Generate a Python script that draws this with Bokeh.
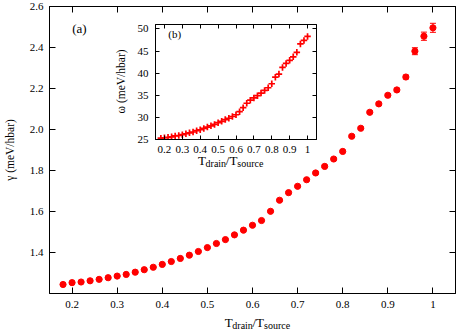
import math
from bokeh.plotting import figure
from bokeh.models import (ColumnDataSource, Whisker, TeeHead, Label, LinearAxis,
                          FixedTicker, CustomJSTickFormatter, Range1d)
from bokeh.layouts import column
from bokeh.embed import file_html
from bokeh.resources import INLINE

# ---------------- data ----------------
ratio = [0.18, 0.20, 0.22, 0.24, 0.26, 0.28, 0.30, 0.32, 0.34, 0.36, 0.38,
         0.40, 0.42, 0.44, 0.46, 0.48, 0.50, 0.52, 0.54, 0.56, 0.58, 0.60,
         0.62, 0.64, 0.66, 0.68, 0.70, 0.72, 0.74, 0.76, 0.78, 0.80, 0.82,
         0.84, 0.86, 0.88, 0.90, 0.92, 0.94, 0.96, 0.98, 1.00]
gamma = [1.244, 1.253, 1.256, 1.262, 1.269, 1.277, 1.285, 1.293, 1.304, 1.316,
         1.328, 1.342, 1.356, 1.371, 1.387, 1.405, 1.424, 1.444, 1.463, 1.486,
         1.509, 1.533, 1.556, 1.601, 1.655, 1.692, 1.723, 1.755, 1.788, 1.820,
         1.856, 1.893, 1.967, 2.006, 2.084, 2.125, 2.167, 2.193, 2.256, 2.382,
         2.455, 2.496]
gamma_err = [0.002, 0.002, 0.002, 0.002, 0.002, 0.002, 0.002, 0.002, 0.002, 0.002,
             0.002, 0.002, 0.002, 0.002, 0.003, 0.003, 0.003, 0.003, 0.003, 0.003,
             0.003, 0.003, 0.003, 0.004, 0.004, 0.004, 0.004, 0.004, 0.005, 0.005,
             0.005, 0.005, 0.006, 0.006, 0.006, 0.007, 0.007, 0.008, 0.009, 0.017,
             0.020, 0.022]
omega = [25.3, 25.4, 25.5, 25.6, 25.8, 25.9, 26.1, 26.3, 26.5, 26.7, 27.0,
         27.2, 27.5, 27.8, 28.1, 28.4, 28.8, 29.1, 29.5, 29.8, 30.2, 30.6,
         31.3, 32.2, 33.2, 33.9, 34.4, 34.9, 35.5, 36.1, 36.7, 37.6, 39.1,
         39.8, 41.3, 42.2, 42.9, 43.7, 44.7, 46.6, 47.4, 48.3]

main_xticks = [0.2, 0.3, 0.4, 0.5, 0.6, 0.7, 0.8, 0.9, 1.0]
main_yticks = [1.4, 1.6, 1.8, 2.0, 2.2, 2.4, 2.6]
inset_xticks = [0.2, 0.3, 0.4, 0.5, 0.6, 0.7, 0.8, 0.9, 1.0]
inset_yticks = [25, 30, 35, 40, 45, 50]

FONT = "Liberation Serif"
RED = "#ff0000"

fmt1 = CustomJSTickFormatter(code="return tick > 0.999 && tick < 1.001 ? '1' : tick.toFixed(1);")
fmt0 = CustomJSTickFormatter(code="return tick.toFixed(0);")
fmt_none = CustomJSTickFormatter(code="return '';")


def make_axis(ticks, fmt, tick_len, standoff):
    ax = LinearAxis(ticker=FixedTicker(ticks=ticks), formatter=fmt)
    ax.major_tick_in = tick_len
    ax.major_tick_out = 0
    ax.minor_tick_line_color = None
    ax.axis_line_color = "black"
    ax.major_tick_line_color = "black"
    ax.major_label_text_font = FONT
    ax.major_label_text_color = "black"
    ax.major_label_text_font_size = "11px"
    ax.major_label_standoff = standoff
    return ax


# ---------------- main plot ----------------
p = figure(width=460, height=331, output_backend="svg", toolbar_location=None,
           x_range=Range1d(0.15, 1.05), y_range=Range1d(1.2, 2.6),
           x_axis_location=None, y_axis_location=None,
           min_border_left=45, min_border_right=5, min_border_top=6, min_border_bottom=38)
p.grid.grid_line_color = None
p.outline_line_color = "black"
p.background_fill_color = "white"
p.border_fill_color = "white"

p.add_layout(make_axis(main_xticks, fmt1, 6, 7), "below")
yax = make_axis(main_yticks, fmt1, 6, 6)
yax.axis_label = "γ (meV/hbar)"
yax.axis_label_text_font = FONT
yax.axis_label_text_font_style = "normal"
yax.axis_label_text_font_size = "11.5px"
yax.axis_label_text_color = "black"
yax.axis_label_standoff = 11
p.add_layout(yax, "left")
p.add_layout(make_axis(main_xticks, fmt_none, 6, 0), "above")
p.add_layout(make_axis(main_yticks, fmt_none, 6, 0), "right")

src = ColumnDataSource(dict(x=ratio, y=gamma,
                            lo=[g - e for g, e in zip(gamma, gamma_err)],
                            hi=[g + e for g, e in zip(gamma, gamma_err)]))
p.scatter("x", "y", source=src, marker="circle", size=6.2, fill_color=RED, line_color=RED)
p.add_layout(Whisker(source=src, base="x", lower="lo", upper="hi", dimension="height",
                     line_color=RED, line_width=1,
                     lower_head=TeeHead(size=6, line_color=RED, line_width=1),
                     upper_head=TeeHead(size=6, line_color=RED, line_width=1)))

# ---------------- inset ----------------
q = figure(width=215, height=140, output_backend="svg", toolbar_location=None,
           x_range=Range1d(0.15, 1.05), y_range=Range1d(25, 51),
           x_axis_location=None, y_axis_location=None,
           min_border_left=45, min_border_right=5, min_border_top=5, min_border_bottom=20)
q.grid.grid_line_color = None
q.outline_line_color = "black"
q.background_fill_color = "white"
q.border_fill_color = "white"
q.add_layout(make_axis(inset_xticks, fmt1, 4, 6), "below")
q.add_layout(make_axis(inset_yticks, fmt0, 4, 7), "left")
q.add_layout(make_axis(inset_xticks, fmt_none, 4, 0), "above")
q.add_layout(make_axis(inset_yticks, fmt_none, 4, 0), "right")

q.scatter(ratio, omega, marker="cross", size=6.5, line_color=RED, line_width=1.7)
q.styles = {"position": "absolute", "left": "106px", "top": "19px"}

# ---------------- text overlay (page pixel coordinates, frame aligned with main) ----
t = figure(width=460, height=331, output_backend="svg", toolbar_location=None,
           x_range=Range1d(45, 455), y_range=Range1d(331, 0),
           x_axis_location=None, y_axis_location=None,
           min_border_left=45, min_border_right=5,
           min_border_top=0, min_border_bottom=0)
t.grid.grid_line_color = None
t.outline_line_color = None
t.background_fill_color = None
t.border_fill_color = None
t.styles = {"position": "absolute", "left": "0px", "top": "0px"}


def txt(x, y, s, size, align="left", baseline="alphabetic", angle=0.0):
    t.add_layout(Label(x=x, y=y, text=s, text_font=FONT, text_font_size=size,
                       text_color="black", text_align=align, text_baseline=baseline,
                       angle=angle))


def xlabel(x0, base):
    txt(x0, base, "T", "13px")
    txt(x0 + 7.6, base + 3, "drain", "10px")
    txt(x0 + 28, base, "/T", "13px")
    txt(x0 + 39.6, base + 3, "source", "10px")


xlabel(222, 322)
xlabel(195, 160)
txt(117, 81, "ω (meV/hbar)", "11.5px", align="center", baseline="middle", angle=math.pi / 2)
txt(68, 28, "(a)", "13px", baseline="middle")
txt(165, 33, "(b)", "11px", baseline="middle")

layout = column(p, q, t)

open("out.html", "w").write(file_html(layout, INLINE))
